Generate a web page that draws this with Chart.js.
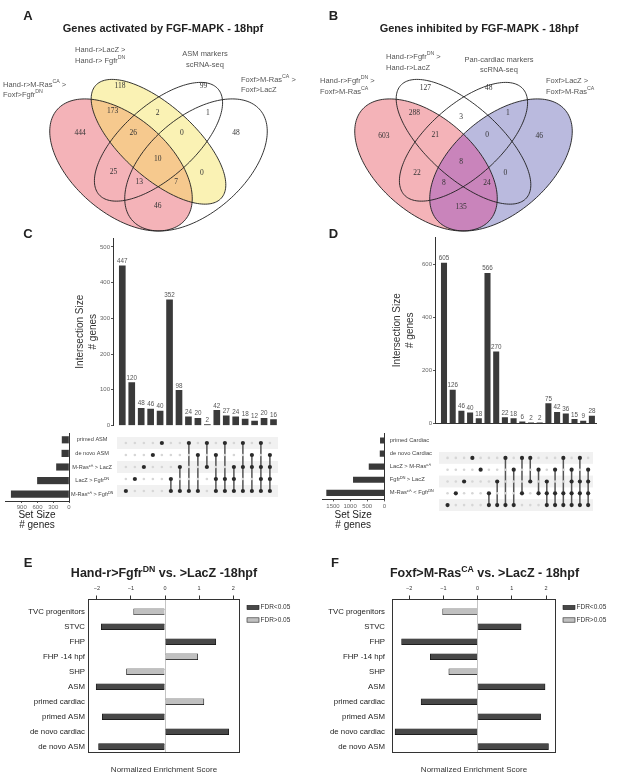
<!DOCTYPE html>
<html>
<head>
<meta charset="utf-8">
<title>FGF-MAPK targets at 18hpf</title>
<script src="https://cdn.jsdelivr.net/npm/chart.js@4.4.1/dist/chart.umd.min.js"></script>
<style>
  body { margin:0; width:617px; height:772px; overflow:hidden; position:relative; background:#fff;
         font-family:"Liberation Sans", Arial, sans-serif; color:#222; }
  canvas { position:absolute; }
  .txt { position:absolute; white-space:nowrap; line-height:1; z-index:2; }
  .mid { transform:translate(-50%,-50%); text-align:center; }
  .lft { transform:translateY(-50%); }
  .letter { font-weight:bold; font-size:13px; }
  .vtitle { font-weight:bold; font-size:11px; }
  .btitle { font-weight:bold; font-size:12.5px; }
  .setlab { font-size:7.5px; color:#555; line-height:10.5px; }
  sup { font-size:70%; line-height:0; vertical-align:super; }
</style>
</head>
<body>
<canvas id="vennA" width="310" height="240" style="left:0;top:0"></canvas>
<canvas id="vennB" width="310" height="240" style="left:307px;top:0"></canvas>
<canvas id="barsC" width="230" height="202" style="left:60px;top:228px"></canvas>
<canvas id="matC" width="169" height="68" style="left:113px;top:433px"></canvas>
<canvas id="setsC" width="113" height="110" style="left:0;top:425px"></canvas>
<canvas id="barsD" width="222" height="200" style="left:375px;top:228px"></canvas>
<canvas id="matD" width="162" height="67" style="left:435px;top:448px"></canvas>
<canvas id="setsD" width="130" height="110" style="left:310px;top:425px"></canvas>
<canvas id="gseaE" width="310" height="198" style="left:0;top:578px"></canvas>
<canvas id="gseaF" width="310" height="198" style="left:307px;top:578px"></canvas>

<div class="txt mid letter" style="left:28px;top:14.5px">A</div>
<div class="txt mid letter" style="left:333.5px;top:14.5px">B</div>
<div class="txt mid letter" style="left:28px;top:233px">C</div>
<div class="txt mid letter" style="left:333.5px;top:233px">D</div>
<div class="txt mid letter" style="left:28px;top:562px">E</div>
<div class="txt mid letter" style="left:335px;top:562px">F</div>

<div class="txt mid vtitle" style="left:163px;top:28px">Genes activated by FGF-MAPK - 18hpf</div>
<div class="txt mid vtitle" style="left:479px;top:28px">Genes inhibited by FGF-MAPK - 18hpf</div>

<div class="txt lft setlab" style="left:3px;top:89.5px">Hand-r&gt;M-Ras<sup>CA</sup> &gt;<br>Foxf&gt;Fgfr<sup>DN</sup></div>
<div class="txt lft setlab" style="left:75px;top:55px">Hand-r&gt;LacZ &gt;<br>Hand-r&gt; Fgfr<sup>DN</sup></div>
<div class="txt mid setlab" style="left:205px;top:59px">ASM markers<br>scRNA-seq</div>
<div class="txt lft setlab" style="left:241px;top:84.5px">Foxf&gt;M-Ras<sup>CA</sup> &gt;<br>Foxf&gt;LacZ</div>

<div class="txt lft setlab" style="left:320px;top:86px">Hand-r&gt;Fgfr<sup>DN</sup> &gt;<br>Foxf&gt;M-Ras<sup>CA</sup></div>
<div class="txt lft setlab" style="left:386px;top:62px">Hand-r&gt;Fgfr<sup>DN</sup> &gt;<br>Hand-r&gt;LacZ</div>
<div class="txt mid setlab" style="left:499px;top:64.5px">Pan-cardiac markers<br>scRNA-seq</div>
<div class="txt lft setlab" style="left:546px;top:86px">Foxf&gt;LacZ &gt;<br>Foxf&gt;M-Ras<sup>CA</sup></div>

<div class="txt mid btitle" style="left:164px;top:573px">Hand-r&gt;Fgfr<sup>DN</sup> vs. &gt;LacZ -18hpf</div>
<div class="txt mid btitle" style="left:484.5px;top:573px">Foxf&gt;M-Ras<sup>CA</sup> vs. &gt;LacZ - 18hpf</div>

<script>
// ---- data ----
// Venn region counts, same region order in both panels
const activatedCounts = [118, 99, 173, 2, 1, 444, 26, 0, 48, 10, 25, 0, 13, 7, 46];
const inhibitedCounts = [127, 48, 288, 3, 1, 603, 21, 0, 46, 8, 22, 0, 8, 24, 135];

// UpSet, panel C (rows top to bottom)
const asmSets = ['primed ASM', 'de novo ASM', 'M-Ras\u1D9C\u1D2C > LacZ', 'LacZ > Fgfr\u1D30\u1D3A', 'M-Ras\u1D9C\u1D2C > Fgfr\u1D30\u1D3A'];
const asmSetSize = [131, 136, 238, 601, 1100];
const asmIntersect = [447, 120, 48, 46, 40, 352, 98, 24, 20, 2, 42, 27, 24, 18, 12, 20, 16];
const asmMembers = [[4], [3], [2], [1], [0], [3, 4], [2, 4], [0, 4], [1, 4], [0, 2],
                    [1, 3, 4], [0, 3, 4], [2, 3, 4], [0, 2, 4], [1, 2, 4], [0, 2, 3, 4], [1, 2, 3, 4]];
const asmIntersectTicks = [0, 100, 200, 300, 400, 500];
const asmSetTicks = [0, 300, 600, 900];

// UpSet, panel D
const cardiacSets = ['primed Cardiac', 'de novo Cardiac', 'LacZ > M-Ras\u1D9C\u1D2C', 'Fgfr\u1D30\u1D3A > LacZ', 'M-Ras\u1D9C\u1D2C < Fgfr\u1D30\u1D3A'];
const cardiacSetSize = [115, 123, 445, 905, 1686];
const cardiacIntersect = [605, 126, 46, 40, 18, 566, 270, 22, 18, 6, 2, 2, 75, 42, 36, 15, 9, 28];
const cardiacMembers = [[4], [3], [2], [0], [1], [3, 4], [2, 4], [0, 4], [1, 4], [0, 3], [0, 2], [1, 3],
                        [2, 3, 4], [1, 3, 4], [0, 3, 4], [1, 2, 3, 4], [0, 2, 3, 4], [1, 2, 3, 4]];
const cardiacIntersectTicks = [0, 200, 400, 600];
const cardiacSetTicks = [0, 500, 1000, 1500];

// GSEA, panels E and F
const gseaCategories = ['TVC progenitors', 'STVC', 'FHP', 'FHP -14 hpf', 'SHP', 'ASM',
                        'primed cardiac', 'primed ASM', 'de novo cardiac', 'de novo ASM'];
const fgfrNES = [-0.92, -1.87, 1.49, 0.96, -1.13, -2.02, 1.14, -1.84, 1.87, -1.95];
const fgfrSignificant = [0, 1, 1, 0, 0, 1, 0, 1, 1, 1];
const rasNES = [-1.02, 1.27, -2.22, -1.38, -0.84, 1.97, -1.65, 1.84, -2.41, 2.07];
const rasSignificant = [0, 1, 1, 1, 0, 1, 1, 1, 1, 1];
const nesTicks = [-2, -1, 0, 1, 2];
const fdrLabels = ['FDR<0.05', 'FDR>0.05'];

// ---- layout ----
// quad venn ellipses in unit coordinates (y up)
const ellipses = [
  {cx: 0.35, cy: 0.47, a: 0.35, b: 0.20, rot: 135},
  {cx: 0.50, cy: 0.57, a: 0.35, b: 0.15, rot: 135},
  {cx: 0.50, cy: 0.57, a: 0.33, b: 0.15, rot: 45},
  {cx: 0.65, cy: 0.47, a: 0.35, b: 0.20, rot: 45}
];
const spotsA = [[0.346, 0.811], [0.680, 0.811], [0.316, 0.703], [0.496, 0.693], [0.697, 0.695],
                [0.186, 0.606], [0.399, 0.609], [0.593, 0.609], [0.810, 0.609], [0.497, 0.494],
                [0.320, 0.441], [0.673, 0.436], [0.423, 0.397], [0.570, 0.397], [0.497, 0.294]];
const spotsB = [[0.347, 0.801], [0.601, 0.801], [0.303, 0.695], [0.490, 0.676], [0.677, 0.695],
                [0.181, 0.595], [0.387, 0.599], [0.594, 0.599], [0.803, 0.595], [0.490, 0.484],
                [0.314, 0.434], [0.667, 0.434], [0.421, 0.391], [0.594, 0.391], [0.490, 0.290]];

Chart.defaults.font.family = '"Liberation Sans", Arial, sans-serif';
Chart.defaults.animation = false;
Chart.defaults.responsive = false;
Chart.defaults.plugins.legend.display = false;
Chart.defaults.plugins.tooltip.enabled = false;

function ellipsePath(e, xs, ys) {
  const p = new Path2D();
  const th = e.rot * Math.PI / 180;
  for (let k = 0; k <= 160; k++) {
    const t = k / 160 * 2 * Math.PI;
    const ux = e.cx + e.a * Math.cos(t) * Math.cos(th) - e.b * Math.sin(t) * Math.sin(th);
    const uy = e.cy + e.a * Math.cos(t) * Math.sin(th) + e.b * Math.sin(t) * Math.cos(th);
    const px = xs.getPixelForValue(ux), py = ys.getPixelForValue(uy);
    if (k) p.lineTo(px, py); else p.moveTo(px, py);
  }
  p.closePath();
  return p;
}

function drawVenn(id, counts, spots, xRange, fills, overlap) {
  const shapes = {
    id: 'vennShapes',
    beforeDatasetsDraw(chart) {
      const {ctx, scales: {x, y}} = chart;
      const paths = ellipses.map(e => ellipsePath(e, x, y));
      ctx.save();
      fills.forEach((f, i) => { if (f) { ctx.fillStyle = f; ctx.fill(paths[i]); } });
      ctx.save();
      ctx.clip(paths[overlap[0]]);
      ctx.fillStyle = overlap[2];
      ctx.fill(paths[overlap[1]]);
      ctx.restore();
      ctx.strokeStyle = '#1e1e1e';
      ctx.lineWidth = 0.9;
      paths.forEach(p => ctx.stroke(p));
      ctx.restore();
    },
    afterDatasetsDraw(chart) {
      const ctx = chart.ctx;
      ctx.save();
      ctx.font = '7.5px "Liberation Serif", "Times New Roman", serif';
      ctx.fillStyle = '#333';
      ctx.textAlign = 'center';
      ctx.textBaseline = 'middle';
      chart.getDatasetMeta(0).data.forEach((pt, i) => ctx.fillText(counts[i], pt.x, pt.y));
      ctx.restore();
    }
  };
  new Chart(document.getElementById(id), {
    type: 'scatter',
    data: { datasets: [{ data: spots.map(s => ({x: s[0], y: s[1]})), pointRadius: 0 }] },
    options: {
      layout: { padding: 0 },
      scales: {
        x: { display: false, min: xRange[0], max: xRange[1] },
        y: { display: false, min: 0.146, max: 1.182 }
      }
    },
    plugins: [shapes]
  });
}

const barValues = {
  id: 'barValues',
  afterDatasetsDraw(chart) {
    const ctx = chart.ctx;
    const ds = chart.data.datasets[0];
    ctx.save();
    ctx.font = '6.3px "Liberation Sans", Arial, sans-serif';
    ctx.fillStyle = '#555';
    ctx.textAlign = 'center';
    ctx.textBaseline = 'bottom';
    chart.getDatasetMeta(0).data.forEach((bar, i) => ctx.fillText(ds.data[i].y, bar.x, bar.y - 1.5));
    ctx.restore();
  }
};

function drawIntersections(id, counts, ticks, opt) {
  new Chart(document.getElementById(id), {
    type: 'bar',
    data: { datasets: [{ data: counts.map((v, i) => ({x: i, y: v})), backgroundColor: '#3a3a3a', barThickness: opt.bar }] },
    options: {
      layout: { padding: { top: opt.padTop, right: opt.padRight, left: 0, bottom: 0 } },
      scales: {
        x: { type: 'linear', offset: false, min: opt.xr[0], max: opt.xr[1], display: opt.baseline,
             ticks: { display: false }, grid: { display: false },
             border: { display: true, color: '#333' },
             afterFit: s => { s.height = 0; } },
        y: { min: 0, max: opt.yMax,
             afterBuildTicks: s => { s.ticks = ticks.map(v => ({value: v})); },
             ticks: { font: { size: 6 }, color: '#666', padding: 1 },
             grid: { drawOnChartArea: false, tickLength: 2, color: '#555' },
             border: { color: '#333' },
             title: { display: true, text: ['Intersection Size', '# genes'], color: '#333',
                      font: { size: 10, lineHeight: 1.35 }, padding: { top: opt.titlePad, bottom: 0 } },
             afterFit: s => { s.width = opt.axisWidth; } }
      }
    },
    plugins: [barValues]
  });
}

const rowStripes = {
  id: 'rowStripes',
  beforeDatasetsDraw(chart) {
    const {ctx, chartArea: a, scales: {y}} = chart;
    ctx.save();
    ctx.fillStyle = '#f1f1f1';
    for (let r = 0; r <= y.max; r += 2) {
      const y0 = y.getPixelForValue(r - 0.5), y1 = y.getPixelForValue(r + 0.5);
      ctx.fillRect(a.left, Math.min(y0, y1), a.right - a.left, Math.abs(y1 - y0));
    }
    ctx.restore();
  }
};

function drawMatrix(id, members, nRows, xr) {
  // light dots only where a set is not part of the intersection
  const empty = [];
  members.forEach((m, i) => {
    for (let r = 0; r < nRows; r++) if (!m.includes(r)) empty.push({x: i, y: r});
  });
  const active = members.map((m, i) => ({
    data: m.map(r => ({x: i, y: r})),
    showLine: true, borderColor: '#555', borderWidth: 1.5,
    pointRadius: 2.1, pointBackgroundColor: '#2a2a2a', pointBorderColor: '#2a2a2a', pointBorderWidth: 0
  }));
  new Chart(document.getElementById(id), {
    type: 'scatter',
    data: { datasets: [{ data: empty, pointRadius: 1.3, pointBackgroundColor: '#d6d6d6', pointBorderWidth: 0 }, ...active] },
    options: {
      layout: { padding: 0 },
      scales: {
        x: { display: false, min: xr[0], max: xr[1] },
        y: { display: false, min: -0.5, max: nRows - 0.5, reverse: true }
      }
    },
    plugins: [rowStripes]
  });
}

function drawSetSizes(id, sets, sizes, ticks, opt) {
  new Chart(document.getElementById(id), {
    type: 'bar',
    data: { labels: sets, datasets: [{ data: sizes, backgroundColor: '#3a3a3a', barThickness: opt.bar }] },
    options: {
      indexAxis: 'y',
      layout: { padding: { left: opt.padLeft, top: opt.padTop, right: 0, bottom: 0 } },
      scales: {
        x: { reverse: true, min: 0, max: opt.xMax,
             afterBuildTicks: s => { s.ticks = ticks.map(v => ({value: v})); },
             ticks: { font: { size: 6 }, color: '#666', padding: 1, autoSkip: false, maxRotation: 0, callback: v => v },
             grid: { drawOnChartArea: false, tickLength: 2, color: '#555' },
             border: { color: '#333' },
             title: { display: true, text: ['Set Size', '# genes'], color: '#222',
                      font: { size: 10, lineHeight: 1 }, padding: { top: 0, bottom: 4.3 } },
             afterFit: s => { s.height = opt.axisHeight; } },
        y: { position: 'right',
             ticks: { font: { size: opt.labelSize }, color: '#444', padding: opt.labelPad, crossAlign: opt.align, autoSkip: false },
             grid: { display: false, drawTicks: false },
             border: { color: '#333' },
             afterFit: s => { s.width = opt.axisWidth; } }
      }
    }
  });
}

const frame = {
  id: 'frame',
  afterDatasetsDraw(chart) {
    const {ctx, chartArea: a} = chart;
    ctx.save();
    ctx.strokeStyle = '#333';
    ctx.lineWidth = 1;
    ctx.strokeRect(a.left + 0.5, a.top + 0.5, a.right - a.left - 1, a.bottom - a.top - 1);
    ctx.restore();
  }
};

const fdrLegend = {
  id: 'fdrLegend',
  afterDraw(chart) {
    const {ctx, chartArea: a} = chart;
    ctx.save();
    ctx.font = '6.5px "Liberation Sans", Arial, sans-serif';
    ctx.textBaseline = 'middle';
    chart.data.datasets.forEach((d, i) => {
      const y = a.top + 8.5 + i * 12.5;
      ctx.fillStyle = d.backgroundColor;
      ctx.fillRect(a.right + 7, y - 2.2, 12, 4.4);
      ctx.strokeStyle = '#222';
      ctx.lineWidth = 0.6;
      ctx.strokeRect(a.right + 7, y - 2.2, 12, 4.4);
      ctx.fillStyle = '#333';
      ctx.fillText(d.label, a.right + 20.5, y);
    });
    ctx.restore();
  }
};

function drawGsea(id, nes, significant, opt) {
  const rows = keep => nes.map((v, i) => keep(significant[i]) ? {x: v, y: i} : null).filter(Boolean);
  new Chart(document.getElementById(id), {
    type: 'bar',
    data: { datasets: [
      { label: fdrLabels[0], data: rows(s => s), backgroundColor: '#484848', borderColor: '#111', borderWidth: 0.7, barThickness: 6 },
      { label: fdrLabels[1], data: rows(s => !s), backgroundColor: '#c0c0c0', borderColor: '#111', borderWidth: 0.7, barThickness: 6 }
    ] },
    options: {
      indexAxis: 'y',
      datasets: { bar: { grouped: false } },
      layout: { padding: { right: opt.padRight, left: 0, top: 0, bottom: 0 } },
      scales: {
        x: { position: 'top', min: opt.xr[0], max: opt.xr[1],
             afterBuildTicks: s => { s.ticks = nesTicks.map(v => ({value: v})); },
             ticks: { font: { size: 5.5 }, color: '#333', padding: 3.5, callback: v => String(v).replace('-', '\u2212') },
             grid: { color: c => (c.tick && c.tick.value === 0) ? '#c4c4c4' : 'rgba(0,0,0,0)', tickColor: '#333', tickLength: 3.5 },
             border: { display: false },
             afterFit: s => { s.height = 21; } },
        xTitle: { type: 'linear', axis: 'x', position: 'bottom',
                  ticks: { display: false }, grid: { display: false }, border: { display: false },
                  title: { display: true, text: 'Normalized Enrichment Score', color: '#333',
                           font: { size: 8 }, padding: { top: 0, bottom: 1 } },
                  afterFit: s => { s.height = 23; } },
        y: { type: 'linear', offset: false, reverse: true, min: -0.85, max: 9.42,
             afterBuildTicks: s => { s.ticks = gseaCategories.map((c, i) => ({value: i})); },
             ticks: { font: { size: 7.8 }, color: '#222', padding: opt.labelPad, autoSkip: false, callback: v => gseaCategories[v] },
             grid: { display: false, drawTicks: false },
             border: { display: false },
             afterFit: s => { s.width = opt.axisWidth; } }
      }
    },
    plugins: [frame, fdrLegend]
  });
}

// ---- panels ----
drawVenn('vennA', activatedCounts, spotsA, [-0.134, 1.106],
         ['#f4b3b8', '#faf2b4', null, null], [0, 1, '#f6c98e']);
drawVenn('vennB', inhibitedCounts, spotsB, [-0.126, 1.114],
         ['#f4b3b8', null, null, '#babade'], [0, 3, '#c984bb']);

const xrC = [-0.984, 16.9];
drawIntersections('barsC', asmIntersect, asmIntersectTicks,
  { xr: xrC, yMax: 525, bar: 6, padTop: 10, padRight: 8, axisWidth: 53, titlePad: 13.25, baseline: false });
drawMatrix('matC', asmMembers, asmSets.length, xrC);
drawSetSizes('setsC', asmSets, asmSetSize, asmSetTicks,
  { xMax: 1219, bar: 6.5, padLeft: 5, padTop: 8, axisHeight: 34, axisWidth: 44, labelSize: 5.6, labelPad: 2, align: 'center' });

const xrD = [-1.034, 17.586];
drawIntersections('barsD', cardiacIntersect, cardiacIntersectTicks,
  { xr: xrD, yMax: 703, bar: 5.4, padTop: 9, padRight: 0, axisWidth: 60, titlePad: 15.25, baseline: true });
drawMatrix('matD', cardiacMembers, cardiacSets.length, xrD);
drawSetSizes('setsD', cardiacSets, cardiacSetSize, cardiacSetTicks,
  { xMax: 1822, bar: 5.5, padLeft: 12, padTop: 7.6, axisHeight: 35.6, axisWidth: 55.7, labelSize: 5.8, labelPad: 5.5, align: 'near' });

drawGsea('gseaE', fgfrNES, fgfrSignificant, { xr: [-2.26, 2.2], padRight: 70, axisWidth: 88, labelPad: 3 });
drawGsea('gseaF', rasNES, rasSignificant, { xr: [-2.5, 2.29], padRight: 61, axisWidth: 85, labelPad: 7 });
</script>
</body>
</html>
